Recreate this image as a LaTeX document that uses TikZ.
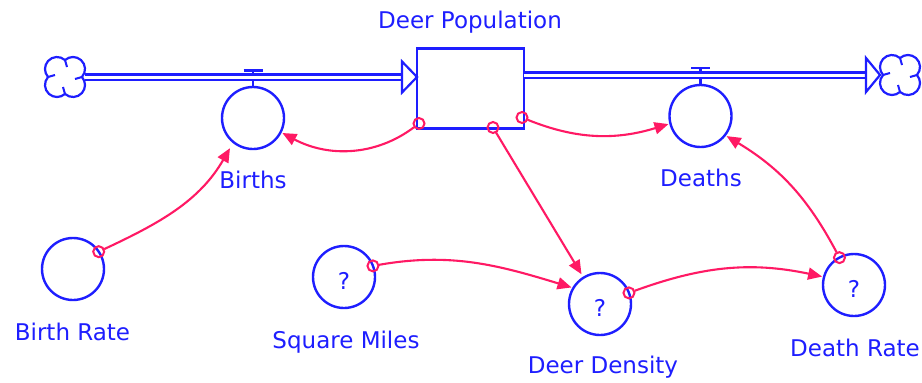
\documentclass[tikz,border=0pt]{standalone}
\usepackage{fontspec}
\setmainfont{DejaVu Sans}
\usetikzlibrary{arrows.meta}
\definecolor{sdblue}{RGB}{30,30,255}
\definecolor{sdred}{RGB}{255,25,100}
\tikzset{
  sdcloud/.pic={
    \draw[sdblue, line width=2.2pt, fill=white]
      (16.94,0) arc[start angle=-41.8,end angle=131.8,radius=12]
      arc[start angle=48.2,end angle=221.8,radius=12]
      arc[start angle=138.2,end angle=311.8,radius=12]
      arc[start angle=228.2,end angle=401.8,radius=12] -- cycle;
    \draw[sdblue, line width=2pt] (0,17) -- (2,10) (17,0) -- (10,-2) (0,-17) -- (-2,-10) (-17,0) -- (-10,2);
  }
}
\begin{document}
\begin{tikzpicture}[x=1pt,y=1pt,
  font=\fontsize{23}{26}\selectfont,
  aux/.style={circle, draw=sdblue, line width=2.4pt, minimum size=62pt, inner sep=0pt, outer sep=0pt, fill=white},
  stockbox/.style={rectangle, draw=sdblue, line width=2.4pt, minimum width=107pt, minimum height=80pt, inner sep=0pt, outer sep=0pt, fill=white},
  lbl/.style={text=sdblue, anchor=base, inner sep=0pt},
  qm/.style={text=sdblue, font=\fontsize{23}{25}\selectfont, inner sep=0pt},
  cloudspot/.style={minimum size=40pt, inner sep=0pt, outer sep=0pt},
  pipe/.style={draw=sdblue, line width=2.6pt, double=white, double distance=3pt},
  flowtip/.style={draw=sdblue, line width=2.2pt, fill=white, line join=miter},
  valve/.style={draw=sdblue, line width=2.4pt},
  conn/.style={draw=sdred, line width=2.1pt, shorten <=6pt, shorten >=2pt, -{Triangle[length=14pt,width=12pt]}},
  connorigin/.style={draw=sdred, line width=2pt},
]
\useasboundingbox (0,0) rectangle (922,-383);
\fill[white] (0,0) rectangle (922,-383);

% nodes
\node[cloudspot] (src) at (65,-77) {};
\node[cloudspot] (sink) at (900,-75) {};
\node[aux] (births) at (253,-118) {};
\node[aux] (deaths) at (700.5,-116) {};
\node[aux] (birthrate) at (73,-269) {};
\node[aux] (sqmiles) at (344,-277) {};
\node[aux] (density) at (600,-304) {};
\node[aux] (deathrate) at (854,-285) {};

% valves
\draw[valve] (births.north) -- ([yshift=16.5pt]births.north) ++(-9.5,0) -- ++(19,0);
\draw[valve] (deaths.north) -- ([yshift=17pt]deaths.north) ++(-9.5,0) -- ++(19,0);

% stock
\node[stockbox] (stock) at (470.5,-88.5) {};

% flows
\coordinate (inTip) at (src.east -| stock.west);
\coordinate (outStart) at (stock.east |- sink.west);
\draw[pipe] (src.east) -- ([xshift=-15pt]inTip);
\draw[flowtip] ([xshift=-15pt,yshift=15.5pt]inTip) -- (inTip) -- ([xshift=-15pt,yshift=-15.5pt]inTip) -- cycle;
\draw[pipe] (outStart) -- ([xshift=-14pt]sink.west);
\draw[flowtip] ([xshift=-14pt,yshift=17pt]sink.west) -- (sink.west) -- ([xshift=-14pt,yshift=-17pt]sink.west) -- cycle;
\pic at (src) {sdcloud};
\pic at (sink) {sdcloud};

% question marks
\node[qm] (q1) at ([yshift=-4pt]sqmiles.center) {?};
\node[qm] (q2) at ([yshift=-4pt]density.center) {?};
\node[qm] (q3) at ([yshift=-4pt]deathrate.center) {?};

% labels
\node[lbl] (tpop) at (470,-28) {Deer Population};
\node[lbl] (tbirths) at (253,-188) {Births};
\node[lbl] (tdeaths) at (701,-186) {Deaths};
\node[lbl] (tbr) at (72.5,-340) {Birth Rate};
\node[lbl] (tsm) at (346,-348) {Square Miles};
\node[lbl] (tdd) at (603,-373) {Deer Density};
\node[lbl] (tdr) at (855,-356) {Death Rate};

% connectors
\coordinate (s1) at ([shift={(2,5)}]stock.south west);
\coordinate (s2) at ([shift={(-2,11)}]stock.south east);
\coordinate (s3) at ([shift={(22.5,1)}]stock.south);

\draw[connorigin] (s1) circle[radius=5.5pt];
\draw[conn] (s1) to[out=217,in=-28] (births.-27);

\draw[connorigin] (s2) circle[radius=5.5pt];
\draw[conn] (s2) to[out=-22,in=197] (deaths.194);

\draw[connorigin] (s3) circle[radius=5.5pt];
\draw[conn, shorten >=4pt] (s3) -- (density.122);

\draw[connorigin] (birthrate.34) circle[radius=5.5pt];
\draw[conn, shorten >=7pt] (birthrate.34) to[out=25,in=240] (births.231);

\draw[connorigin] (sqmiles.21) circle[radius=5.5pt];
\draw[conn] (sqmiles.21) to[out=10,in=163] (density.149);

\draw[connorigin] (density.21) circle[radius=5.5pt];
\draw[conn] (density.21) to[out=20,in=168] (deathrate.165);

\draw[connorigin] (deathrate.118) circle[radius=5.5pt];
\draw[conn] (deathrate.118) to[out=118,in=-31] (deaths.-38);
\end{tikzpicture}
\end{document}
